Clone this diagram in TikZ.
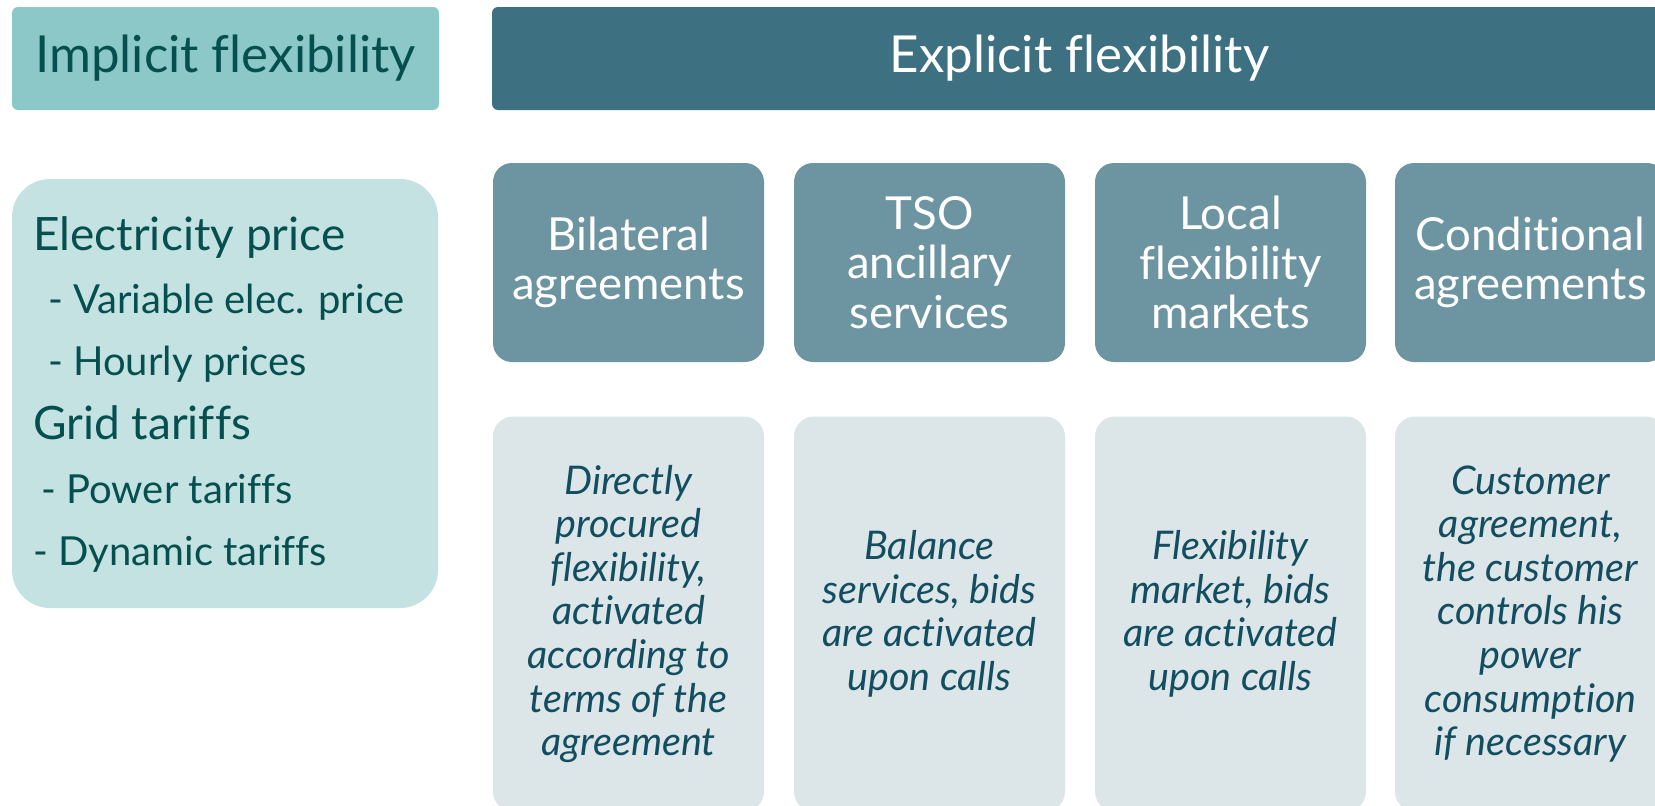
\documentclass[tikz,border=0pt]{standalone}
\usepackage{fontspec}
\setmainfont{Lato}[Ligatures=NoCommon]
\definecolor{impfill}{HTML}{8CC8C8}
\definecolor{imptext}{HTML}{05504F}
\definecolor{leftfill}{HTML}{C5E2E2}
\definecolor{expfill}{HTML}{3D7081}
\definecolor{catfill}{HTML}{6D94A1}
\definecolor{descfill}{HTML}{DCE5E8}
\definecolor{desctext}{HTML}{124E60}
\tikzset{
  hdrimp/.style={fill=impfill, rounded corners=6pt, text=imptext, inner sep=0pt,
    minimum height=103pt, font=\fontsize{51}{60}\selectfont},
  hdrexp/.style={fill=expfill, rounded corners=6pt, text=white, inner sep=0pt,
    minimum height=103pt, font=\fontsize{51}{60}\selectfont},
  leftbox/.style={fill=leftfill, rounded corners=38pt, inner sep=0pt,
    minimum width=426pt, minimum height=429pt},
  catbox/.style={fill=catfill, rounded corners=19pt, text=white, inner sep=0pt,
    minimum width=271pt, minimum height=199pt, align=center,
    font=\fontsize{45.5}{49.6}\selectfont},
  descbox/.style={fill=descfill, rounded corners=20pt, text=desctext, inner sep=0pt,
    minimum width=271pt, minimum height=395pt, align=center,
    font=\fontsize{39.5}{43.6}\selectfont\itshape},
  lhead/.style={anchor=base west, inner sep=0pt, text=imptext, font=\fontsize{46}{50}\selectfont},
  lsub/.style={anchor=base west, inner sep=0pt, text=imptext, font=\fontsize{40}{45}\selectfont}
}
\begin{document}
\begin{tikzpicture}[x=1pt,y=-1pt]
\useasboundingbox (0,0) rectangle (1655,806);
% headers
\node[hdrimp, minimum width=427pt] (imp) at (225.5,58.5) {Implicit flexibility};
\node[hdrexp, minimum width=1175pt] (exp) at (1079.5,58.5) {Explicit flexibility};
% left box
\node[leftbox] (left) at (225,393.5) {};
\node[lhead] (l1) at (33,250) {Electricity price};
\node[lsub]  (l2) at (48,313.5) {- Variable elec. price};
\node[lsub]  (l3) at (48,375) {- Hourly prices};
\node[lhead] (l4) at (33,439) {Grid tariffs};
\node[lsub]  (l5) at (41,503.5) {- Power tariffs};
\node[lsub]  (l6) at (33,565) {- Dynamic tariffs};
% category boxes
\node[catbox] (c1) at (628.5,262.5) {Bilateral\\agreements};
\node[catbox] (c2) at (929.5,262.5) {TSO\\ancillary\\services};
\node[catbox] (c3) at (1230.5,262.5) {Local\\flexibility\\markets};
\node[catbox] (c4) at (1530.5,262.5) {Conditional\\agreements};
% description boxes
\node[descbox] (d1) at (628.5,614) {Directly\\procured\\flexibility,\\activated\\according to\\terms of the\\agreement};
\node[descbox] (d2) at (929.5,614) {Balance\\services, bids\\are activated\\upon calls};
\node[descbox] (d3) at (1230.5,614) {Flexibility\\market, bids\\are activated\\upon calls};
\node[descbox] (d4) at (1530.5,614) {Customer\\agreement,\\the customer\\controls his\\power\\consumption\\if necessary};
\end{tikzpicture}
\end{document}
